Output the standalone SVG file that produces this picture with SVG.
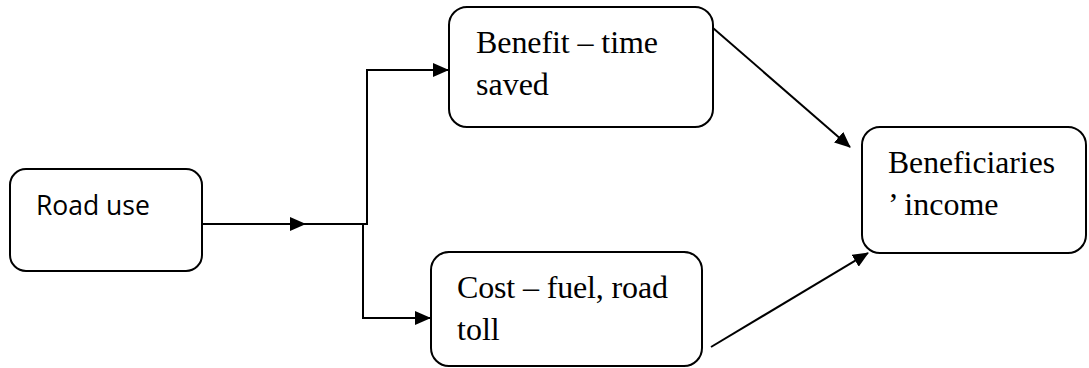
<svg xmlns="http://www.w3.org/2000/svg" width="1089" height="368" viewBox="0 0 1089 368">
<style>
.box{fill:#fff;stroke:#000;stroke-width:2}
.c{fill:none;stroke:#000;stroke-width:2}
.serif{font-family:"Liberation Serif","Times New Roman",serif;font-size:32px;fill:#000}
.sans{font-family:"Open Sans","Noto Sans",sans-serif;font-size:26.5px;fill:#000}
</style>
<defs>
<marker id="ah" markerWidth="16" markerHeight="14" refX="15" refY="7" orient="auto" markerUnits="userSpaceOnUse">
<path d="M0,0 L16,7 L0,14 Z" fill="#000"/>
</marker>
</defs>
<g id="connectors">
<path class="c" d="M202,224 L305,224" marker-end="url(#ah)"/>
<path class="c" d="M303,224 L368,224"/>
<path class="c" d="M367,224 L367,70 L448,70" marker-end="url(#ah)"/>
<path class="c" d="M363,224 L363,318 L430,318" marker-end="url(#ah)"/>
<path class="c" d="M713,28 L850,147" marker-end="url(#ah)"/>
<path class="c" d="M711,347 L868,253" marker-end="url(#ah)"/>
</g>
<g id="road-use">
<rect class="box" x="10" y="169" width="192" height="102" rx="16"/>
<text class="sans" x="36" y="215">Road use</text>
</g>
<g id="benefit">
<rect class="box" x="449" y="7" width="264" height="120" rx="18"/>
<text class="serif" x="476" y="53" textLength="182" lengthAdjust="spacing">Benefit – time</text>
<text class="serif" x="476" y="95">saved</text>
</g>
<g id="cost">
<rect class="box" x="431" y="252" width="271" height="114" rx="18"/>
<text class="serif" x="457" y="298" textLength="211" lengthAdjust="spacing">Cost – fuel, road</text>
<text class="serif" x="457" y="340">toll</text>
</g>
<g id="beneficiaries">
<rect class="box" x="862" y="127" width="224" height="126" rx="18"/>
<text class="serif" x="888" y="173" textLength="167" lengthAdjust="spacingAndGlyphs">Beneficiaries</text>
<text class="serif" x="888" y="215">’ income</text>
</g>
</svg>
